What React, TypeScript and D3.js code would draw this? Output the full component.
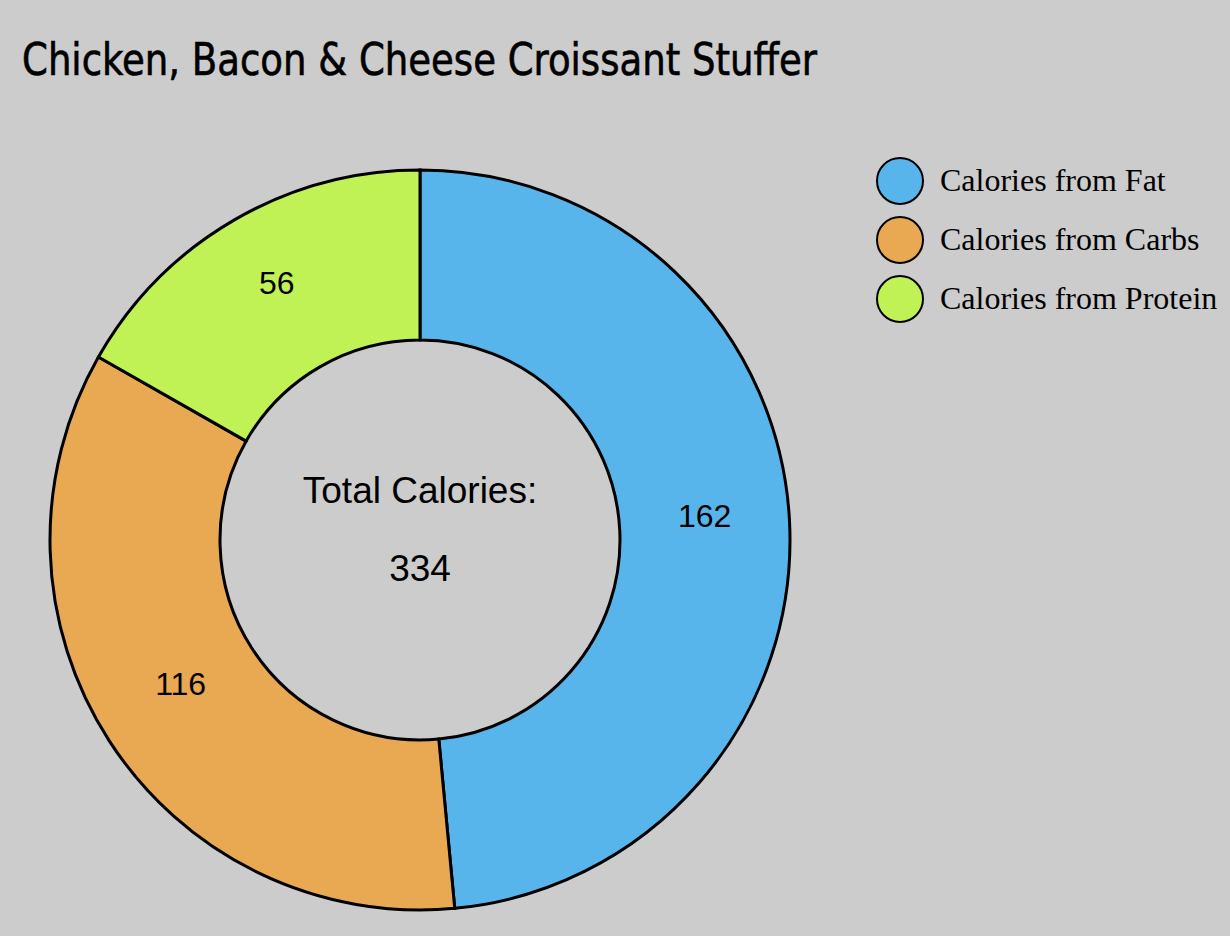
import React, { useEffect, useRef } from 'react';
import * as d3 from 'd3';

const title = 'Chicken, Bacon & Cheese Croissant Stuffer';
const categories = ['Calories from Fat', 'Calories from Carbs', 'Calories from Protein'];
const values = [162, 116, 56];
const colors = ['#58b5ec', '#e9a852', '#c0f255'];

const App = () => {
    const svgRef = useRef<SVGSVGElement>(null);

    useEffect(() => {
        document.body.style.margin = '0';
        document.body.style.background = '#cccccc';

        const width = 1230;
        const height = 936;
        const cx = 420;
        const cy = 540;
        const outer = 370;
        const inner = 200;

        const svg = d3.select(svgRef.current)
            .attr('width', width)
            .attr('height', height);

        svg.selectAll('*').remove();

        svg.append('rect')
            .attr('width', width)
            .attr('height', height)
            .attr('fill', '#cccccc');

        // Title
        svg.append('text')
            .attr('x', 22)
            .attr('y', 75)
            .attr('font-family', '"DejaVu Sans Condensed", "DejaVu Sans", sans-serif')
            .attr('font-size', 44)
            .attr('stroke', '#000')
            .attr('stroke-width', 0.6)
            .attr('textLength', 795)
            .attr('lengthAdjust', 'spacingAndGlyphs')
            .attr('fill', '#000')
            .text(title);

        const data = categories.map((c, i) => ({ name: c, value: values[i], color: colors[i] }));
        const total = d3.sum(values);

        const pie = d3.pie<any>().value(d => d.value).sort(null);
        const arc = d3.arc<any>().innerRadius(inner).outerRadius(outer);
        const labelArc = d3.arc<any>().innerRadius((inner + outer) / 2).outerRadius((inner + outer) / 2);

        const g = svg.append('g')
            .attr('transform', `translate(${cx}, ${cy})`);

        const slices = g.selectAll('.slice')
            .data(pie(data))
            .enter()
            .append('g')
            .attr('class', 'slice');

        slices.append('path')
            .attr('d', arc)
            .attr('fill', d => d.data.color)
            .attr('stroke', '#000')
            .attr('stroke-width', 3);

        slices.append('text')
            .attr('transform', d => {
                const [x, y] = labelArc.centroid(d);
                return `translate(${x}, ${y})`;
            })
            .attr('text-anchor', 'middle')
            .attr('font-family', '"Liberation Sans", Arial, sans-serif')
            .attr('font-size', 32)
            .attr('fill', '#000')
            .text(d => d.data.value);

        // Center text
        g.append('text')
            .attr('x', 0)
            .attr('y', -37)
            .attr('text-anchor', 'middle')
            .attr('font-family', '"Liberation Sans", Arial, sans-serif')
            .attr('font-size', 37)
            .text('Total Calories:');

        g.append('text')
            .attr('x', 0)
            .attr('y', 41)
            .attr('text-anchor', 'middle')
            .attr('font-family', '"Liberation Sans", Arial, sans-serif')
            .attr('font-size', 37)
            .text(total);

        // Legend
        const legendY = d3.scaleLinear().domain([0, 1]).range([181, 240]);
        const legend = svg.selectAll('.legend')
            .data(data)
            .enter()
            .append('g')
            .attr('class', 'legend')
            .attr('transform', (d, i) => `translate(900, ${legendY(i)})`);

        legend.append('circle')
            .attr('r', 23)
            .attr('fill', d => d.color)
            .attr('stroke', '#000')
            .attr('stroke-width', 2);

        legend.append('text')
            .attr('x', 40)
            .attr('y', 10)
            .attr('font-family', '"Liberation Serif", "Times New Roman", serif')
            .attr('font-size', 32)
            .attr('fill', '#000')
            .text(d => d.name);
    }, []);

    return <svg ref={svgRef} style={{ display: 'block' }}></svg>;
};

export default App;
